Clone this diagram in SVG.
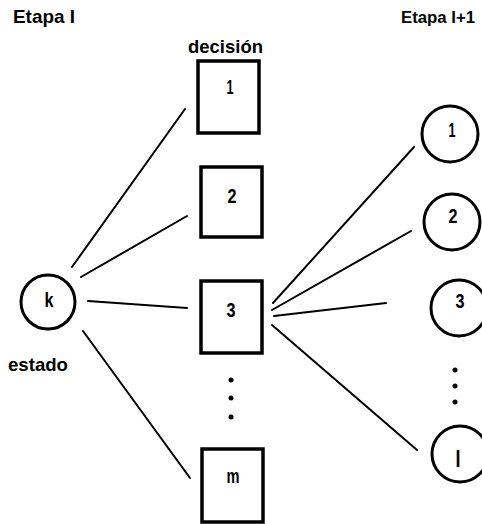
<svg xmlns="http://www.w3.org/2000/svg" width="482" height="524" viewBox="0 0 482 524">
  <style>
    .lbl { font-family: "Liberation Sans", Arial, sans-serif; font-weight: bold; fill: #000; }
    .hdr { font-size: 19px; }
    .num { font-size: 21px; text-anchor: middle; }
    .box { fill: #fff; stroke: #000; stroke-width: 3.5; }
    .node { fill: #fff; stroke: #000; stroke-width: 3; }
    .edge { stroke: #000; stroke-width: 2; stroke-linecap: round; fill: none; }
    .dot { fill: #000; }
  </style>
  <rect width="482" height="524" fill="#fff"/>

  <!-- headings -->
  <text class="lbl hdr" x="13" y="23" textLength="62" lengthAdjust="spacingAndGlyphs">Etapa I</text>
  <text class="lbl" x="401" y="23" style="font-size:17px" textLength="74" lengthAdjust="spacingAndGlyphs">Etapa I+1</text>
  <text class="lbl hdr" x="188" y="53" textLength="75" lengthAdjust="spacingAndGlyphs">decisión</text>
  <text class="lbl hdr" x="8" y="371" textLength="60" lengthAdjust="spacingAndGlyphs">estado</text>

  <!-- connectors -->
  <g id="connectors">
    <line class="edge" x1="72" y1="267" x2="185" y2="109"/>
    <line class="edge" x1="81" y1="277" x2="187" y2="216"/>
    <line class="edge" x1="88" y1="301" x2="187" y2="308"/>
    <line class="edge" x1="83" y1="331" x2="190" y2="478"/>
    <line class="edge" x1="273" y1="303" x2="414" y2="147"/>
    <line class="edge" x1="272" y1="310" x2="411" y2="231"/>
    <line class="edge" x1="274" y1="316" x2="386" y2="303"/>
    <line class="edge" x1="272" y1="325" x2="417" y2="450"/>
  </g>

  <!-- state k -->
  <g id="state-k">
    <circle class="node" cx="48" cy="302" r="27"/>
    <text class="lbl num" x="49" y="307" textLength="9" lengthAdjust="spacingAndGlyphs">k</text>
  </g>

  <!-- decisions -->
  <g id="decision-1">
    <rect class="box" x="198" y="61" width="61" height="72"/>
    <text class="lbl num" x="230" y="94" textLength="7" lengthAdjust="spacingAndGlyphs">1</text>
  </g>
  <g id="decision-2">
    <rect class="box" x="201" y="167" width="61" height="70"/>
    <text class="lbl num" x="232" y="203" textLength="9" lengthAdjust="spacingAndGlyphs">2</text>
  </g>
  <g id="decision-3">
    <rect class="box" x="201" y="281" width="61" height="72"/>
    <text class="lbl num" x="231" y="317" textLength="9" lengthAdjust="spacingAndGlyphs">3</text>
  </g>
  <g id="decision-dots">
    <circle class="dot" cx="231" cy="380" r="2.5"/>
    <circle class="dot" cx="231" cy="398" r="2.5"/>
    <circle class="dot" cx="231" cy="417" r="2.5"/>
  </g>
  <g id="decision-m">
    <rect class="box" x="202" y="449" width="61" height="73"/>
    <text class="lbl num" x="233" y="483" textLength="13" lengthAdjust="spacingAndGlyphs">m</text>
  </g>

  <!-- next-stage states -->
  <g id="next-1">
    <circle class="node" cx="450" cy="134" r="28"/>
    <text class="lbl num" x="452" y="137" textLength="7" lengthAdjust="spacingAndGlyphs">1</text>
  </g>
  <g id="next-2">
    <circle class="node" cx="452" cy="222" r="28"/>
    <text class="lbl num" x="453" y="223" textLength="9" lengthAdjust="spacingAndGlyphs">2</text>
  </g>
  <g id="next-3">
    <circle class="node" cx="459" cy="308" r="28"/>
    <text class="lbl num" x="460" y="308" textLength="9" lengthAdjust="spacingAndGlyphs">3</text>
  </g>
  <g id="next-dots">
    <circle class="dot" cx="455" cy="370" r="2.5"/>
    <circle class="dot" cx="455" cy="386" r="2.5"/>
    <circle class="dot" cx="455" cy="402" r="2.5"/>
  </g>
  <g id="next-I">
    <circle class="node" cx="460" cy="454" r="28"/>
    <text class="lbl num" x="458" y="467" style="font-size:24px" textLength="5" lengthAdjust="spacingAndGlyphs">I</text>
  </g>
</svg>
